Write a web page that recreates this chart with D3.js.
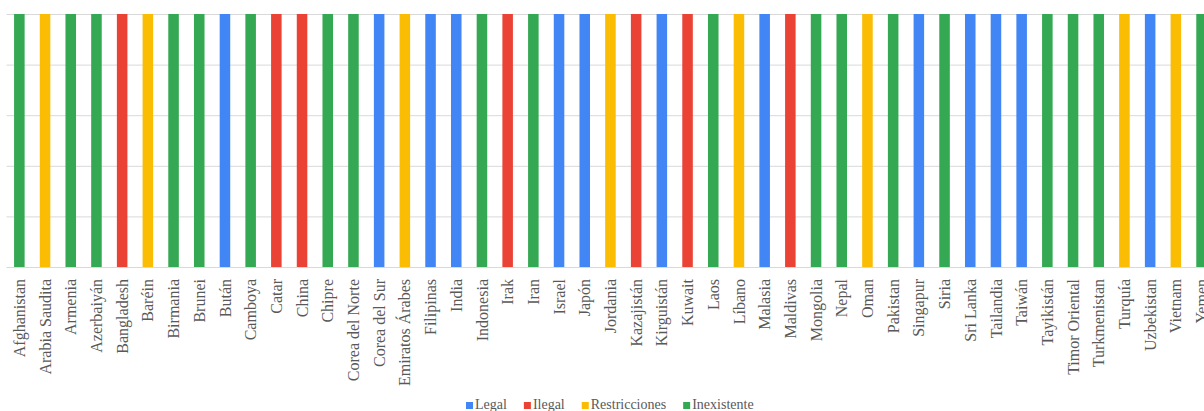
<!DOCTYPE html>
<meta charset="utf-8">
<head>
    <title>Asia</title>
    <script src="https://cdn.jsdelivr.net/npm/d3@7/dist/d3.min.js"></script>
</head>

<style>
    body { margin: 0; background: #fff; }
    .grid line { stroke: #d9d9d9; stroke-width: 1px; }
    .grid path { display: none; }
    .xlab text { font-family: "Liberation Serif", serif; font-size: 16px; fill: #595959; }
    .legend text { font-family: "Liberation Serif", serif; font-size: 14px; fill: #595959; }
</style>

<svg width="1204" height="411"></svg>

<script>
    var countries = ["Afghanistan", "Arabia Saudita", "Armenia", "Azerbaiyán", "Bangladesh", "Baréin",
        "Birmania", "Brunei", "Bután", "Camboya", "Catar", "China", "Chipre", "Corea del Norte",
        "Corea del Sur", "Emiratos Árabes", "Filipinas", "India", "Indonesia", "Irak", "Iran", "Israel",
        "Japón", "Jordania", "Kazajistán", "Kirguistán", "Kuwait", "Laos", "Líbano", "Malasia",
        "Maldivas", "Mongolia", "Nepal", "Oman", "Pakistan", "Singapur", "Siria", "Sri Lanka",
        "Tailandia", "Taiwán", "Tayikistán", "Timor Oriental", "Turkmenistan", "Turquía",
        "Uzbekistan", "Vietnam", "Yemen"];
    // status of each country, same order
    var statuses = ["Inexistente", "Restricciones", "Inexistente", "Inexistente", "Ilegal", "Restricciones",
        "Inexistente", "Inexistente", "Legal", "Inexistente", "Ilegal", "Ilegal", "Inexistente", "Inexistente",
        "Legal", "Restricciones", "Legal", "Legal", "Inexistente", "Ilegal", "Inexistente", "Legal",
        "Legal", "Restricciones", "Ilegal", "Legal", "Ilegal", "Inexistente", "Restricciones", "Legal",
        "Ilegal", "Inexistente", "Inexistente", "Restricciones", "Inexistente", "Legal", "Inexistente", "Legal",
        "Legal", "Legal", "Inexistente", "Inexistente", "Inexistente", "Restricciones",
        "Legal", "Restricciones", "Inexistente"];
    var values = countries.map(function () { return 5; });
    var categories = ["Legal", "Ilegal", "Restricciones", "Inexistente"];
    var colors = ["#4285F4", "#EA4335", "#FBBC04", "#34A853"];
    var yTicks = [0, 1, 2, 3, 4, 5];

    var svg = d3.select('svg');
    var left = 6.5, step = 25.7, yTop = 14, base = 267;

    var x = d3.scaleBand().domain(countries)
        .range([left, left + step * countries.length]).paddingInner(0.59).paddingOuter(0.295);
    var y = d3.scaleLinear().domain([0, 5]).range([base, yTop]);
    var color = d3.scaleOrdinal().domain(categories).range(colors);

    // gridlines
    svg.append('g').attr('class', 'grid')
        .attr('transform', 'translate(' + left + ',0)')
        .call(d3.axisLeft(y).tickValues(yTicks).tickSize(-1300).tickFormat(''));

    // bars
    svg.append('g').selectAll('rect').data(countries).enter().append('rect')
        .attr('x', function (d) { return x(d); })
        .attr('width', x.bandwidth())
        .attr('y', function (d, i) { return y(values[i]); })
        .attr('height', function (d, i) { return base - y(values[i]); })
        .attr('fill', function (d, i) { return color(statuses[i]); });

    // x labels
    svg.append('g').attr('class', 'xlab').selectAll('text').data(countries).enter().append('text')
        .attr('transform', function (d) {
            return 'translate(' + (x(d) + x.bandwidth() / 2) + ',279) rotate(-90)';
        })
        .attr('text-anchor', 'end')
        .attr('dy', '0.35em')
        .text(function (d) { return d; });

    // legend
    var legend = svg.append('g').attr('class', 'legend');
    var lx = 466;
    categories.forEach(function (c) {
        legend.append('rect').attr('x', lx).attr('y', 402).attr('width', 7).attr('height', 7)
            .attr('fill', color(c));
        var t = legend.append('text').attr('x', lx + 9).attr('y', 409).text(c);
        lx += 9 + t.node().getComputedTextLength() + 17;
    });
</script>
